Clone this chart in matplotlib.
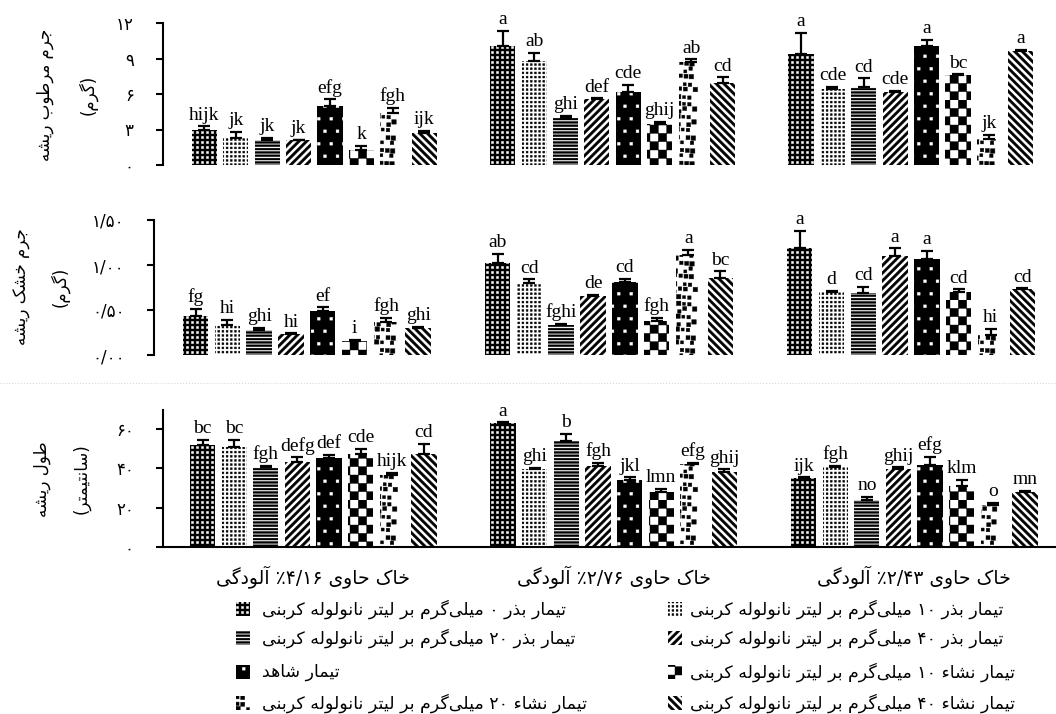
import warnings
import numpy as np
import matplotlib
matplotlib.use('Agg')
import matplotlib.pyplot as plt
from matplotlib import hatch as mhatch
from matplotlib.path import Path
from matplotlib.patches import Rectangle
from matplotlib.lines import Line2D

warnings.filterwarnings('ignore')

# ---------------- data ----------------
soils = ['خاک حاوی ۴/۱۶٪ آلودگی', 'خاک حاوی ۲/۷۶٪ آلودگی', 'خاک حاوی ۲/۴۳٪ آلودگی']

treatments = [
    'تیمار بذر ۰ میلی‌گرم بر لیتر نانولوله کربنی',
    'تیمار بذر ۱۰ میلی‌گرم بر لیتر نانولوله کربنی',
    'تیمار بذر ۲۰ میلی‌گرم بر لیتر نانولوله کربنی',
    'تیمار بذر ۴۰ میلی‌گرم بر لیتر نانولوله کربنی',
    'تیمار شاهد',
    'تیمار نشاء ۱۰ میلی‌گرم بر لیتر نانولوله کربنی',
    'تیمار نشاء ۲۰ میلی‌گرم بر لیتر نانولوله کربنی',
    'تیمار نشاء ۴۰ میلی‌گرم بر لیتر نانولوله کربنی',
]

# rows = treatments, columns = soils
fresh_mean = [[2.96, 10.06, 9.38], [2.3, 8.8, 6.4], [2.1, 3.95, 6.62], [2.1, 5.58, 6.2],
              [5.0, 6.17, 10.06], [1.27, 3.47, 7.6], [4.4, 8.73, 2.17], [2.7, 6.96, 9.66]]
fresh_err = [[0.3, 1.27, 1.8], [0.5, 0.65, 0.17], [0.2, 0.2, 0.7], [0.05, 0.05, 0.05],
             [0.55, 0.6, 0.5], [0.35, 0.2, 0.05], [0.45, 0.2, 0.35], [0.2, 0.45, 0.05]]
fresh_letters = [['hijk', 'a', 'a'], ['jk', 'ab', 'cde'], ['jk', 'ghi', 'cd'], ['jk', 'def', 'cde'],
                 ['efg', 'cde', 'a'], ['k', 'ghij', 'bc'], ['fgh', 'ab', 'jk'], ['ijk', 'cd', 'a']]

dry_mean = [[0.43, 1.02, 1.19], [0.33, 0.80, 0.70], [0.28, 0.33, 0.69], [0.23, 0.66, 1.10],
            [0.49, 0.81, 1.07], [0.16, 0.38, 0.70], [0.37, 1.11, 0.22], [0.30, 0.86, 0.73]]
dry_err = [[0.08, 0.10, 0.19], [0.056, 0.04, 0.01], [0.02, 0.02, 0.07], [0.01, 0.01, 0.085],
           [0.04, 0.04, 0.085], [0.01, 0.03, 0.03], [0.04, 0.06, 0.07], [0.01, 0.07, 0.01]]
dry_letters = [['fg', 'ab', 'a'], ['hi', 'cd', 'd'], ['ghi', 'fghi', 'cd'], ['hi', 'de', 'a'],
               ['ef', 'cd', 'a'], ['i', 'fgh', 'cd'], ['fgh', 'a', 'hi'], ['ghi', 'bc', 'cd']]

length_mean = [[51.9, 63.0, 34.9], [51.0, 39.6, 40.5], [40.5, 54.1, 23.8], [43.4, 41.2, 39.5],
               [45.4, 34.0, 41.7], [47.3, 27.7, 31.1], [36.6, 42.2, 21.3], [47.3, 38.3, 28.1]]
length_err = [[2.6, 0.5, 0.5], [3.4, 0.8, 0.7], [0.7, 3.4, 1.7], [2.2, 1.7, 1.0],
              [1.4, 1.4, 4.2], [2.5, 1.7, 2.9], [1.2, 0.5, 1.2], [5.4, 1.2, 0.5]]
length_letters = [['bc', 'a', 'ijk'], ['bc', 'ghi', 'fgh'], ['fgh', 'b', 'no'], ['defg', 'fgh', 'ghij'],
                  ['def', 'jkl', 'efg'], ['cde', 'lmn', 'klm'], ['hijk', 'efg', 'o'], ['cd', 'ghij', 'mn']]

fresh_ticks = [0, 3, 6, 9, 12]
fresh_ticklabels = ['۰', '۳', '۶', '۹', '۱۲']
dry_ticks = [0, 0.5, 1.0, 1.5]
dry_ticklabels = ['۰/۰۰', '۰/۵۰', '۱/۰۰', '۱/۵۰']
length_ticks = [0, 20, 40, 60]
length_ticklabels = ['۰', '۲۰', '۴۰', '۶۰']

# ---------------- persian text (shaping + right-to-left order) ----------------
FORMS = {
    'ء': ('\uFE80', None, None, None),
    'آ': ('\uFE81', '\uFE82', None, None),
    'ا': ('\uFE8D', '\uFE8E', None, None),
    'ب': ('\uFE8F', '\uFE90', '\uFE91', '\uFE92'),
    'ت': ('\uFE95', '\uFE96', '\uFE97', '\uFE98'),
    'ج': ('\uFE9D', '\uFE9E', '\uFE9F', '\uFEA0'),
    'ح': ('\uFEA1', '\uFEA2', '\uFEA3', '\uFEA4'),
    'خ': ('\uFEA5', '\uFEA6', '\uFEA7', '\uFEA8'),
    'د': ('\uFEA9', '\uFEAA', None, None),
    'ذ': ('\uFEAB', '\uFEAC', None, None),
    'ر': ('\uFEAD', '\uFEAE', None, None),
    'ز': ('\uFEAF', '\uFEB0', None, None),
    'س': ('\uFEB1', '\uFEB2', '\uFEB3', '\uFEB4'),
    'ش': ('\uFEB5', '\uFEB6', '\uFEB7', '\uFEB8'),
    'ط': ('\uFEC1', '\uFEC2', '\uFEC3', '\uFEC4'),
    'ل': ('\uFEDD', '\uFEDE', '\uFEDF', '\uFEE0'),
    'م': ('\uFEE1', '\uFEE2', '\uFEE3', '\uFEE4'),
    'ن': ('\uFEE5', '\uFEE6', '\uFEE7', '\uFEE8'),
    'ه': ('\uFEE9', '\uFEEA', '\uFEEB', '\uFEEC'),
    'و': ('\uFEED', '\uFEEE', None, None),
    'ک': ('\uFB8E', '\uFB8F', '\uFB90', '\uFB91'),
    'گ': ('\uFB92', '\uFB93', '\uFB94', '\uFB95'),
    'ی': ('\uFBFC', '\uFBFD', '\uFBFE', '\uFBFF'),
}
NUM = set('۰۱۲۳۴۵۶۷۸۹0123456789/.')
MIRROR = str.maketrans('()', ')(')


def shape(text):
    out = []
    for i, ch in enumerate(text):
        f = FORMS.get(ch)
        if f is None:
            if ch != '\u200c':
                out.append(ch)
            continue
        prev = FORMS.get(text[i - 1]) if i > 0 else None
        nxt = FORMS.get(text[i + 1]) if i + 1 < len(text) else None
        to_prev = prev is not None and prev[2] is not None and f[1] is not None
        to_next = f[2] is not None and nxt is not None and nxt[1] is not None
        if to_prev and to_next:
            out.append(f[3])
        elif to_prev:
            out.append(f[1])
        elif to_next:
            out.append(f[2])
        else:
            out.append(f[0])
    return ''.join(out)


def fa(text):
    runs = []
    for ch in shape(text):
        kind = ch in NUM
        if runs and runs[-1][0] == kind:
            runs[-1][1].append(ch)
        else:
            runs.append((kind, [ch]))
    parts = []
    for kind, chars in reversed(runs):
        seg = ''.join(chars)
        parts.append(seg if kind else seg[::-1].translate(MIRROR))
    return ''.join(parts)


# ---------------- filled hatch patterns ----------------
def square(cx, cy, s):
    # square plus wrapped copies so the 1x1 hatch tile repeats without seams
    out = []
    for ox in (-1, 0, 1):
        for oy in (-1, 0, 1):
            x, y = cx + ox, cy + oy
            if x + s / 2 < 0 or x - s / 2 > 1 or y + s / 2 < 0 or y - s / 2 > 1:
                continue
            out.append([(x - s / 2, y - s / 2), (x + s / 2, y - s / 2),
                        (x + s / 2, y + s / 2), (x - s / 2, y + s / 2)])
    return out


def grid(n, size, stagger=0.0):
    polys = []
    for j in range(n):
        for i in range(n):
            polys += square((i + 0.5 + stagger * (j % 2)) / n, (j + 0.5) / n, size / n)
    return polys


def blobs(n, size):
    # irregular-looking spots on a staggered lattice
    polys = []
    for j in range(n):
        for i in range(n):
            if (i * 3 + j * 7) % 7 == 0:
                continue
            dx = ((i * 5 + j * 11) % 7 - 3) / 7 * 0.7
            dy = ((i * 13 + j * 3) % 7 - 3) / 7 * 0.5
            s = size * (0.75 + 0.12 * ((i + 2 * j) % 4))
            polys += square((i + 0.5 + 0.5 * (j % 2) + dx) / n, (j + 0.5 + dy) / n, s / n)
    return polys


def checker(n):
    polys = []
    for j in range(n):
        for i in range(n):
            if (i + j) % 2 == 0:
                polys.append([(i / n, j / n), ((i + 1) / n, j / n),
                              ((i + 1) / n, (j + 1) / n), (i / n, (j + 1) / n)])
    return polys


def stripes(n, frac, kind):
    polys = []
    t = frac / n
    for k in range(-n - 1, n + 2):
        c = k / n
        if kind == 'h':
            polys.append([(-0.01, c), (1.01, c), (1.01, c + t), (-0.01, c + t)])
        elif kind == '/':
            polys.append([(c, 0), (c + t, 0), (c + t + 1, 1), (c + 1, 1)])
        else:
            polys.append([(c, 1), (c + t, 1), (c + t + 1, 0), (c + 1, 0)])
    return polys


class BlockHatch(mhatch.HatchPatternBase):
    def __init__(self, hatch, density):
        polys = []
        if 'q' in hatch:
            polys += grid(20, 0.42)
        if 'w' in hatch:
            polys += grid(24, 0.45)
        if 'd' in hatch:
            polys += grid(8, 0.22, stagger=0.5)
        if 'b' in hatch:
            polys += blobs(15, 0.6)
        if 'c' in hatch:
            polys += checker(12)
        if 'h' in hatch:
            polys += stripes(30, 0.55, 'h')
        if 'f' in hatch:
            polys += stripes(13, 0.45, '/')
        if 'k' in hatch:
            polys += stripes(13, 0.45, '\\')
        self.polys = polys
        self.num_vertices = 5 * len(polys)

    def set_vertices_and_codes(self, vertices, codes):
        for k, p in enumerate(self.polys):
            vertices[5 * k:5 * k + 4] = p
            vertices[5 * k + 4] = p[0]
            codes[5 * k] = Path.MOVETO
            codes[5 * k + 1:5 * k + 4] = Path.LINETO
            codes[5 * k + 4] = Path.CLOSEPOLY


mhatch._hatch_types.append(BlockHatch)

plt.rcParams['font.family'] = ['DejaVu Sans']
plt.rcParams['hatch.linewidth'] = 0.3

STYLES = [
    dict(face='black', hc='white', hatch='q'),
    dict(face='white', hc='black', hatch='w'),
    dict(face='white', hc='black', hatch='h'),
    dict(face='white', hc='black', hatch='f'),
    dict(face='black', hc='white', hatch='d'),
    dict(face='white', hc='black', hatch='c'),
    dict(face='white', hc='black', hatch='b'),
    dict(face='white', hc='black', hatch='k'),
]
GROUP_STEP = 9.5
W, H = 1056, 714

fig = plt.figure(figsize=(W / 100, H / 100), dpi=100)


def px_axes(left, right, y0, ytop):
    return fig.add_axes([left / W, 1 - y0 / H, (right - left) / W, (y0 - ytop) / H])


def panel(ax, means, errs, letters, ylim, ticks, ticklabels, xlim, bottom_spine=False):
    for i in range(8):
        x = np.arange(3) * GROUP_STEP + i
        st = STYLES[i]
        ax.bar(x, means[i], width=0.8, color=st['face'], edgecolor=st['hc'],
               hatch=st['hatch'], linewidth=0, zorder=2)
        ax.errorbar(x, means[i], yerr=[np.zeros(3), errs[i]], fmt='none', ecolor='black',
                    elinewidth=1.6, capsize=4.5, capthick=1.6, zorder=3)
        for xx, m, e, lab in zip(x, means[i], errs[i], letters[i]):
            ax.annotate(lab, (xx, m + e), xytext=(0, 2), textcoords='offset points',
                        ha='center', va='bottom', fontsize=14, family='Liberation Serif',
                        annotation_clip=False)
    ax.set_ylim(*ylim)
    ax.set_xlim(*xlim)
    ax.set_yticks(ticks)
    ax.set_yticklabels([fa(t) for t in ticklabels])
    ax.set_xticks([])
    ax.tick_params(axis='y', length=5, width=1.5, pad=16, labelsize=12)
    for side in ['top', 'right']:
        ax.spines[side].set_visible(False)
    ax.spines['bottom'].set_visible(bottom_spine)
    ax.spines['left'].set_linewidth(1.5)
    ax.spines['bottom'].set_linewidth(1.5)
    ax.patch.set_alpha(0)


ax1 = px_axes(163, 1050, 165, 23)
panel(ax1, fresh_mean, fresh_err, fresh_letters, (0, 12), fresh_ticks, fresh_ticklabels,
      (-1.32, 26.93))

ax2 = px_axes(154, 1050, 355, 220)
panel(ax2, dry_mean, dry_err, dry_letters, (0, 1.5), dry_ticks, dry_ticklabels,
      (-1.305, 26.87))

ax3 = px_axes(163, 1056, 546.7, 409.7)
panel(ax3, length_mean, length_err, length_letters, (0, 70), length_ticks, length_ticklabels,
      (-1.25, 26.98), bottom_spine=True)

for g, soil in enumerate(soils):
    ax3.text(g * GROUP_STEP + 3.5, -0.22, fa(soil), transform=ax3.get_xaxis_transform(),
             ha='center', va='center', fontsize=13.5)

# y axis titles (two lines each)
ylabels = [
    ('جرم مرطوب ریشه', '(گرم)', 45, 88, 95),
    ('جرم خشک ریشه', '(گرم)', 22, 60, 287),
    ('طول ریشه', '(سانتیمتر)', 42, 81, 479),
]
for outer, inner, xo, xi, yc in ylabels:
    fig.text(xo / W, 1 - yc / H, fa(outer), rotation=90, ha='center', va='center', fontsize=12)
    fig.text(xi / W, 1 - yc / H, fa(inner), rotation=90, ha='center', va='center', fontsize=12)

# faint separator
fig.add_artist(Line2D([0, 1], [1 - 383 / H, 1 - 383 / H], transform=fig.transFigure,
                      color='#d8d8d8', lw=0.8, ls=':'))

# legend
rows = [609, 638, 672, 703]
cols = [(236, 262), (668, 690)]
for k in range(8):
    c, r = k % 2, k // 2
    st = STYLES[k]
    px, tx = cols[c]
    y = rows[r]
    fig.add_artist(Rectangle((px / W, 1 - (y + 7) / H), 14 / W, 14 / H, transform=fig.transFigure,
                             facecolor=st['face'], edgecolor=st['hc'], hatch=st['hatch'],
                             linewidth=0))
    fig.text(tx / W, 1 - y / H, fa(treatments[k]), ha='left', va='center', fontsize=12.5)

fig.savefig('out.png', dpi=100)
